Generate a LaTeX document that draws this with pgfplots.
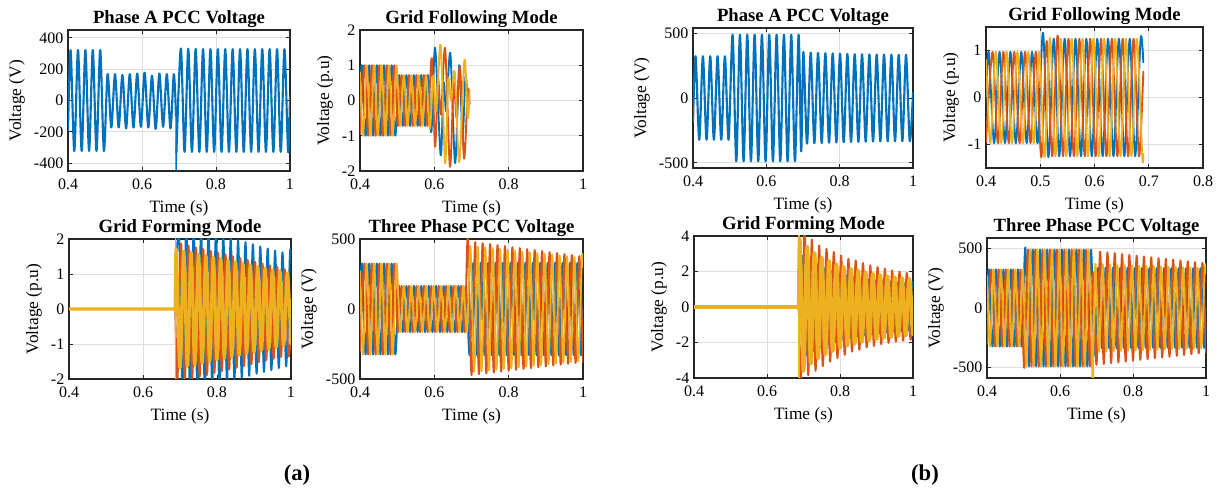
\documentclass[border=0pt]{standalone}
\usepackage{pgfplots}
\pgfplotsset{compat=1.18}
\usepackage{fontspec}
\setmainfont{Liberation Serif}
\definecolor{mblue}{rgb}{0,0.447,0.741}
\definecolor{morange}{rgb}{0.85,0.325,0.098}
\definecolor{myellow}{rgb}{0.929,0.694,0.125}
\pgfplotsset{
 mstyle/.style={
  scale only axis, anchor=south west,
  xmin=0.4, xmax=1,
  xtick={0.4,0.6,0.8,1},
  grid=major, grid style={black!13, line width=0.6pt},
  axis line style={black!85, line width=0.9pt},
  tick style={black!85, line width=0.6pt},
  tick align=inside, major tick length=3pt,
  tick label style={font=\fontsize{12}{12}\selectfont},
  xticklabel style={yshift=-2.5pt},
  label style={font=\fontsize{13}{13}\selectfont},
  xlabel style={yshift=-1pt},
  title style={font=\bfseries\fontsize{14}{14}\selectfont, yshift=-8pt},
  xlabel={Time (s)},
  /pgf/number format/assume math mode=true,
  xticklabel style={/pgf/number format/fixed},
  yticklabel style={/pgf/number format/fixed},
  scaled ticks=false,
  every axis plot/.append style={smooth, line width=1.4pt, mark=none, line join=round, line cap=round},
 }
}
\begin{document}
\begin{tikzpicture}
\useasboundingbox (0,0) rectangle (918.75pt,368.25pt);

% ---------- (a) Phase A PCC Voltage
\begin{axis}[mstyle, at={(51pt,240pt)}, width=166.5pt, height=105.75pt,
  ymin=-450, ymax=450, ytick={-400,-200,0,200,400},
  title={Phase A PCC Voltage}, ylabel={Voltage (V)}]
\addplot[mblue, line width=1.6pt] coordinates {(0.4,-190)(0.407,322)(0.417,-322)(0.427,322)(0.437,-322)(0.447,322)(0.457,-322)(0.467,322)(0.477,-322)(0.487,322)(0.497,-322)(0.507,168)(0.517,-172)(0.527,168)(0.537,-172)(0.547,163)(0.557,-178)(0.567,168)(0.577,-172)(0.587,172)(0.597,-168)(0.607,178)(0.617,-172)(0.627,158)(0.637,-182)(0.647,172)(0.657,-168)(0.667,168)(0.677,-178)(0.686,168)(0.692,-100)};
\addplot[mblue, line width=1.1pt, sharp plot] coordinates {(0.692,-100)(0.692,-470)(0.693,-335)};
\addplot[mblue, line width=1.6pt] coordinates {(0.693,-333)(0.705,332)(0.715,-328)(0.725,330)(0.735,-328)(0.745,329)(0.755,-328)(0.765,328)(0.775,-328)(0.785,328)(0.795,-328)(0.805,328)(0.815,-328)(0.825,328)(0.835,-328)(0.845,328)(0.855,-328)(0.865,328)(0.875,-328)(0.885,328)(0.895,-328)(0.905,328)(0.915,-328)(0.925,328)(0.935,-328)(0.945,328)(0.955,-328)(0.965,328)(0.975,-328)(0.985,328)(0.995,-328)(1,30)};
\end{axis}

% ---------- (a) Grid Following Mode
\begin{axis}[mstyle, at={(270pt,240pt)}, width=167.25pt, height=105.75pt,
  ymin=-2, ymax=2, ytick={-2,-1,0,1,2},
  title={Grid Following Mode}, ylabel={Voltage (p.u)}]
\addplot[mblue] coordinates {(0.4,0)(0.405,1)(0.415,-1)(0.425,1)(0.435,-1)(0.445,1)(0.455,-1)(0.465,1)(0.475,-1)(0.485,1)(0.495,-1)(0.505,0.72)(0.515,-0.72)(0.525,0.72)(0.535,-0.72)(0.545,0.72)(0.555,-0.72)(0.565,0.72)(0.575,-0.72)(0.583,0.72)(0.592,-0.9)(0.602,1.5)(0.617,-1.55)(0.625,0.5)(0.632,-0.3)(0.643,1.34)(0.656,-1.78)(0.667,1.0)(0.676,-1.0)(0.684,0.7)(0.69,-0.2)};
\addplot[morange] coordinates {(0.4,-0.95)(0.412,1)(0.422,-1)(0.432,1)(0.442,-1)(0.452,1)(0.462,-1)(0.472,1)(0.482,-1)(0.492,1)(0.502,-0.72)(0.512,0.72)(0.522,-0.72)(0.532,0.72)(0.542,-0.72)(0.552,0.72)(0.562,-0.72)(0.572,0.72)(0.582,-0.72)(0.593,1.2)(0.602,-1.31)(0.61,0.6)(0.618,-0.4)(0.629,1.48)(0.642,-1.88)(0.652,0.5)(0.66,-0.5)(0.669,0.96)(0.68,-1.65)(0.69,0.3)(0.695,-0.1)};
\addplot[myellow] coordinates {(0.4,0.8)(0.408,-1)(0.418,1)(0.428,-1)(0.438,1)(0.448,-1)(0.458,1)(0.468,-1)(0.478,1)(0.488,-1)(0.498,1)(0.508,-0.72)(0.518,0.72)(0.528,-0.72)(0.538,0.72)(0.548,-0.72)(0.558,0.72)(0.568,-0.72)(0.578,0.72)(0.588,-0.8)(0.597,0.7)(0.605,-0.3)(0.617,1.57)(0.629,-1.78)(0.637,0.6)(0.645,0.0)(0.655,0.8)(0.667,-1.75)(0.681,1.15)(0.69,-0.5)(0.695,0.3)};
\end{axis}

% ---------- (a) Grid Forming Mode
\begin{axis}[mstyle, at={(51.75pt,84pt)}, width=166.5pt, height=105pt,
  ymin=-2, ymax=2, ytick={-2,-1,0,1,2},
  title={Grid Forming Mode}, ylabel={Voltage (p.u)}]
\addplot[mblue] coordinates {(0.4,0)(0.686,0)(0.687,0)(0.697,2.43)(0.707,-2.40)(0.717,2.37)(0.727,-2.35)(0.737,2.31)(0.747,-2.29)(0.757,2.26)(0.767,-2.24)(0.777,2.20)(0.787,-2.18)(0.797,2.14)(0.807,-2.13)(0.817,2.08)(0.827,-2.07)(0.837,2.02)(0.847,-2.02)(0.857,1.97)(0.867,-1.96)(0.877,1.91)(0.887,-1.91)(0.897,1.85)(0.907,-1.85)(0.917,1.79)(0.927,-1.80)(0.937,1.73)(0.947,-1.75)(0.957,1.67)(0.967,-1.69)(0.977,1.62)(0.987,-1.64)(0.997,1.56)(1,1.4)};
\addplot[morange] coordinates {(0.4,0)(0.686,0)(0.687,0)(0.693,-2.09)(0.703,1.87)(0.713,-2.04)(0.723,1.81)(0.733,-1.99)(0.743,1.76)(0.753,-1.94)(0.763,1.71)(0.773,-1.89)(0.783,1.66)(0.793,-1.83)(0.803,1.61)(0.813,-1.78)(0.823,1.56)(0.833,-1.73)(0.843,1.51)(0.853,-1.68)(0.863,1.45)(0.873,-1.63)(0.883,1.40)(0.893,-1.58)(0.903,1.35)(0.913,-1.52)(0.923,1.30)(0.933,-1.47)(0.943,1.25)(0.953,-1.42)(0.963,1.20)(0.973,-1.37)(0.983,1.14)(0.993,-1.32)(1,-0.6)};
\addplot[myellow, line width=2.5pt] coordinates {(0.4,0)(0.686,0)(0.687,0)(0.690,1.7)(0.700,-1.68)(0.710,1.65)(0.720,-1.63)(0.730,1.61)(0.740,-1.59)(0.750,1.56)(0.760,-1.54)(0.770,1.52)(0.780,-1.50)(0.790,1.47)(0.800,-1.45)(0.810,1.43)(0.820,-1.41)(0.830,1.38)(0.840,-1.36)(0.850,1.34)(0.860,-1.32)(0.870,1.29)(0.880,-1.27)(0.890,1.25)(0.900,-1.23)(0.910,1.20)(0.920,-1.18)(0.930,1.16)(0.940,-1.14)(0.950,1.11)(0.960,-1.09)(0.970,1.07)(0.980,-1.05)(0.990,1.02)(1,-1.0)};
\addplot[myellow, line width=1.1pt, sharp plot] coordinates {(0.6875,-2.05)(0.6875,2.05)};
\end{axis}

% ---------- (a) Three Phase PCC Voltage
\begin{axis}[mstyle, at={(270pt,84pt)}, width=167.25pt, height=105pt,
  ymin=-500, ymax=500, ytick={-500,0,500},
  title={Three Phase PCC Voltage}, ylabel={Voltage (V)}]
\addplot[mblue] coordinates {(0.4,0)(0.405,325)(0.415,-325)(0.425,325)(0.435,-325)(0.445,325)(0.455,-325)(0.465,325)(0.475,-325)(0.485,325)(0.495,-325)(0.505,165)(0.515,-165)(0.525,165)(0.535,-165)(0.545,165)(0.555,-165)(0.565,165)(0.575,-165)(0.585,165)(0.595,-165)(0.605,165)(0.615,-165)(0.625,165)(0.635,-165)(0.645,165)(0.655,-165)(0.665,165)(0.675,-165)(0.685,165)(0.695,-330)(0.705,330)(0.715,-330)(0.725,330)(0.735,-330)(0.745,330)(0.755,-330)(0.765,330)(0.775,-330)(0.785,330)(0.795,-330)(0.805,330)(0.815,-330)(0.825,330)(0.835,-330)(0.845,330)(0.855,-330)(0.865,330)(0.875,-330)(0.885,330)(0.895,-330)(0.905,330)(0.915,-330)(0.925,330)(0.935,-330)(0.945,330)(0.955,-330)(0.965,330)(0.975,-330)(0.985,330)(0.995,-330)(1,0)};
\addplot[morange] coordinates {(0.4,-300)(0.412,325)(0.422,-325)(0.432,325)(0.442,-325)(0.452,325)(0.462,-325)(0.472,325)(0.482,-325)(0.492,325)(0.502,-165)(0.512,165)(0.522,-165)(0.532,165)(0.542,-165)(0.552,165)(0.562,-165)(0.572,165)(0.582,-165)(0.592,165)(0.602,-165)(0.612,165)(0.622,-165)(0.632,165)(0.642,-165)(0.652,165)(0.662,-165)(0.672,165)(0.682,-165)(0.690,510)(0.700,-472)(0.710,478)(0.720,-466)(0.730,471)(0.740,-460)(0.750,464)(0.760,-454)(0.770,457)(0.780,-447)(0.790,450)(0.800,-441)(0.810,442)(0.820,-435)(0.830,435)(0.840,-429)(0.850,428)(0.860,-423)(0.870,421)(0.880,-417)(0.890,414)(0.900,-411)(0.910,407)(0.920,-404)(0.930,400)(0.940,-398)(0.950,393)(0.960,-392)(0.970,386)(0.980,-386)(0.990,378)(1,-380)};
\addplot[myellow] coordinates {(0.4,270)(0.408,-325)(0.418,325)(0.428,-325)(0.438,325)(0.448,-325)(0.458,325)(0.468,-325)(0.478,325)(0.488,-325)(0.498,325)(0.508,-165)(0.518,165)(0.528,-165)(0.538,165)(0.548,-165)(0.558,165)(0.568,-165)(0.578,165)(0.588,-165)(0.598,165)(0.608,-165)(0.618,165)(0.628,-165)(0.638,165)(0.648,-165)(0.658,165)(0.668,-165)(0.678,165)(0.688,-165)(0.697,450)(0.707,-450)(0.717,445)(0.727,-445)(0.737,440)(0.747,-439)(0.757,434)(0.767,-434)(0.777,428)(0.787,-428)(0.797,422)(0.807,-423)(0.817,416)(0.827,-417)(0.837,410)(0.847,-412)(0.857,405)(0.867,-406)(0.877,400)(0.887,-401)(0.897,394)(0.907,-395)(0.917,388)(0.927,-390)(0.937,382)(0.947,-384)(0.957,377)(0.967,-379)(0.977,371)(0.987,-373)(0.997,366)(1,300)};
\end{axis}

% ---------- (b) Phase A PCC Voltage
\begin{axis}[mstyle, at={(519.75pt,242.25pt)}, width=165pt, height=105pt,
  ymin=-540, ymax=540, ytick={-500,0,500},
  title={Phase A PCC Voltage}, ylabel={Voltage (V)}]
\addplot[mblue, line width=1.6pt] coordinates {(0.4,-185)(0.407,322)(0.417,-322)(0.427,322)(0.437,-322)(0.447,322)(0.457,-322)(0.467,322)(0.477,-322)(0.487,322)(0.497,-322)(0.508,488)(0.518,-488)(0.528,488)(0.538,-488)(0.548,488)(0.558,-488)(0.568,488)(0.578,-488)(0.588,488)(0.598,-488)(0.608,488)(0.618,-488)(0.628,488)(0.638,-488)(0.648,488)(0.658,-488)(0.668,488)(0.678,-488)(0.688,488)(0.695,-412)(0.701,355)(0.711,-352)(0.721,350)(0.731,-349)(0.741,348)(0.751,-347)(0.761,346)(0.771,-345)(0.781,344)(0.791,-343)(0.801,342)(0.811,-341)(0.821,340)(0.831,-339)(0.841,338)(0.851,-338)(0.861,337)(0.871,-337)(0.881,336)(0.891,-336)(0.901,335)(0.911,-335)(0.921,335)(0.931,-334)(0.941,334)(0.951,-334)(0.961,333)(0.971,-333)(0.981,333)(0.991,-333)(1,40)};
\end{axis}

% ---------- (b) Grid Following Mode
\begin{axis}[mstyle, at={(739.5pt,242.25pt)}, width=162.75pt, height=105.75pt,
  xmax=0.8, xtick={0.4,0.5,0.6,0.7,0.8},
  ymin=-1.5, ymax=1.5, ytick={-1,0,1},
  title={Grid Following Mode}, ylabel={Voltage (p.u)}]
\addplot[mblue] coordinates {(0.4,0)(0.405,0.97)(0.415,-0.97)(0.425,0.97)(0.435,-0.97)(0.445,0.97)(0.455,-0.97)(0.465,0.97)(0.475,-0.97)(0.485,0.97)(0.495,-0.97)(0.505,1.38)(0.515,-1.27)(0.525,1.25)(0.535,-1.25)(0.545,1.25)(0.555,-1.25)(0.565,1.25)(0.575,-1.25)(0.585,1.25)(0.595,-1.25)(0.605,1.25)(0.615,-1.25)(0.625,1.25)(0.635,-1.25)(0.645,1.25)(0.655,-1.25)(0.665,1.25)(0.675,-1.25)(0.685,1.25)(0.69,0.75)};
\addplot[morange] coordinates {(0.4,-0.95)(0.412,0.97)(0.422,-0.97)(0.432,0.97)(0.442,-0.97)(0.452,0.97)(0.462,-0.97)(0.472,0.97)(0.482,-0.97)(0.492,0.97)(0.502,-1.27)(0.512,1.2)(0.522,-1.25)(0.532,1.32)(0.542,-1.25)(0.552,1.25)(0.562,-1.25)(0.572,1.25)(0.582,-1.25)(0.592,1.25)(0.602,-1.25)(0.612,1.25)(0.622,-1.25)(0.632,1.25)(0.642,-1.25)(0.652,1.25)(0.662,-1.25)(0.672,1.25)(0.682,-1.25)(0.69,0.55)};
\addplot[myellow] coordinates {(0.4,0.8)(0.408,-0.97)(0.418,0.97)(0.428,-0.97)(0.438,0.97)(0.448,-0.97)(0.458,0.97)(0.468,-0.97)(0.478,0.97)(0.488,-0.97)(0.498,0.97)(0.508,-1.27)(0.518,1.27)(0.528,-1.25)(0.538,1.25)(0.548,-1.25)(0.558,1.25)(0.568,-1.25)(0.578,1.25)(0.588,-1.25)(0.598,1.25)(0.608,-1.25)(0.618,1.25)(0.628,-1.25)(0.638,1.25)(0.648,-1.25)(0.658,1.25)(0.668,-1.25)(0.678,1.25)(0.688,-1.25)(0.69,-1.2)};
\end{axis}

% ---------- (b) Grid Forming Mode
\begin{axis}[mstyle, at={(520.5pt,84.75pt)}, width=164.25pt, height=106.5pt,
  ymin=-4, ymax=4, ytick={-4,-2,0,2,4},
  title={Grid Forming Mode}, ylabel={Voltage (p.u)}]
\addplot[mblue, line width=1pt] coordinates {(0.4,0)(0.686,0)(0.687,0)(0.697,2.9)(0.707,-2.75)(0.717,2.65)(0.727,-2.5)(0.737,2.4)(0.747,-2.3)(0.757,2.2)(0.767,-2.12)(0.777,2.05)(0.787,-1.98)(0.797,1.92)(0.807,-1.86)(0.817,1.8)(0.827,-1.76)(0.837,1.72)(0.847,-1.68)(0.857,1.64)(0.867,-1.61)(0.877,1.57)(0.887,-1.55)(0.897,1.52)(0.907,-1.5)(0.917,1.47)(0.927,-1.45)(0.937,1.43)(0.947,-1.41)(0.957,1.39)(0.967,-1.37)(0.977,1.35)(0.987,-1.34)(0.997,1.32)(1,1.1)};
\addplot[morange] coordinates {(0.4,0)(0.686,0)(0.687,0)(0.693,-4.3)(0.703,4.3)(0.713,-3.85)(0.723,3.8)(0.733,-3.6)(0.743,3.47)(0.753,-3.33)(0.763,3.28)(0.773,-3.08)(0.783,3.1)(0.793,-2.88)(0.803,2.9)(0.813,-2.7)(0.823,2.72)(0.833,-2.52)(0.843,2.62)(0.853,-2.42)(0.863,2.48)(0.873,-2.28)(0.883,2.35)(0.893,-2.2)(0.903,2.25)(0.913,-2.1)(0.923,2.16)(0.933,-2.02)(0.943,2.06)(0.953,-1.96)(0.963,2.0)(0.973,-1.9)(0.983,1.92)(0.993,-1.85)(1,0.2)};
\addplot[myellow, line width=2.8pt] coordinates {(0.4,0)(0.686,0)(0.687,0)(0.690,3.8)(0.700,-3.6)(0.710,3.4)(0.720,-3.2)(0.730,3.05)(0.740,-2.9)(0.750,2.8)(0.760,-2.68)(0.770,2.6)(0.780,-2.48)(0.790,2.42)(0.800,-2.32)(0.810,2.27)(0.820,-2.18)(0.830,2.15)(0.840,-2.07)(0.850,2.05)(0.860,-1.97)(0.870,1.95)(0.880,-1.89)(0.890,1.87)(0.900,-1.82)(0.910,1.8)(0.920,-1.75)(0.930,1.74)(0.940,-1.7)(0.950,1.68)(0.960,-1.65)(0.970,1.63)(0.980,-1.6)(0.990,1.58)(1,-1.56)};
\addplot[myellow, line width=1.1pt, sharp plot] coordinates {(0.6875,-4.1)(0.6875,4.1)};
\end{axis}

% ---------- (b) Three Phase PCC Voltage
\begin{axis}[mstyle, at={(740.25pt,84.75pt)}, width=164.25pt, height=105pt,
  ymin=-590, ymax=590, ytick={-500,0,500},
  title={Three Phase PCC Voltage}, ylabel={Voltage (V)}]
\addplot[mblue] coordinates {(0.4,0)(0.405,325)(0.415,-325)(0.425,325)(0.435,-325)(0.445,325)(0.455,-325)(0.465,325)(0.475,-325)(0.485,325)(0.495,-325)(0.505,510)(0.515,-492)(0.525,492)(0.535,-492)(0.545,492)(0.555,-492)(0.565,492)(0.575,-492)(0.585,492)(0.595,-492)(0.605,492)(0.615,-492)(0.625,492)(0.635,-492)(0.645,492)(0.655,-492)(0.665,492)(0.675,-492)(0.685,492)(0.695,-400)(0.705,340)(0.715,-340)(0.725,340)(0.735,-340)(0.745,339)(0.755,-339)(0.765,338)(0.775,-338)(0.785,338)(0.795,-338)(0.805,337)(0.815,-337)(0.825,337)(0.835,-337)(0.845,336)(0.855,-336)(0.865,336)(0.875,-336)(0.885,335)(0.895,-335)(0.905,335)(0.915,-335)(0.925,335)(0.935,-335)(0.945,335)(0.955,-335)(0.965,335)(0.975,-335)(0.985,335)(0.995,-335)(1,0)};
\addplot[morange] coordinates {(0.4,-300)(0.412,325)(0.422,-325)(0.432,325)(0.442,-325)(0.452,325)(0.462,-325)(0.472,325)(0.482,-325)(0.492,325)(0.502,-505)(0.512,492)(0.522,-492)(0.532,492)(0.542,-492)(0.552,492)(0.562,-492)(0.572,492)(0.582,-492)(0.592,492)(0.602,-492)(0.612,492)(0.622,-492)(0.632,492)(0.642,-492)(0.652,492)(0.662,-492)(0.672,492)(0.682,-492)(0.691,300)(0.700,-480)(0.710,476)(0.720,-473)(0.730,469)(0.740,-466)(0.750,462)(0.760,-459)(0.770,455)(0.780,-452)(0.790,448)(0.800,-445)(0.810,441)(0.820,-438)(0.830,435)(0.840,-431)(0.850,428)(0.860,-424)(0.870,421)(0.880,-418)(0.890,414)(0.900,-411)(0.910,408)(0.920,-404)(0.930,401)(0.940,-397)(0.950,394)(0.960,-390)(0.970,387)(0.980,-383)(0.990,380)(1,-376)};
\addplot[myellow] coordinates {(0.4,270)(0.408,-325)(0.418,325)(0.428,-325)(0.438,325)(0.448,-325)(0.458,325)(0.468,-325)(0.478,325)(0.488,-325)(0.498,325)(0.508,-492)(0.518,492)(0.528,-492)(0.538,492)(0.548,-492)(0.558,492)(0.568,-492)(0.578,492)(0.588,-492)(0.598,492)(0.608,-492)(0.618,492)(0.628,-492)(0.638,492)(0.648,-492)(0.658,492)(0.668,-492)(0.678,492)(0.688,-492)(0.690,-600)(0.697,372)(0.707,-370)(0.717,367)(0.727,-366)(0.737,364)(0.747,-363)(0.757,362)(0.767,-361)(0.777,360)(0.787,-359)(0.797,358)(0.807,-357)(0.817,356)(0.827,-355)(0.837,354)(0.847,-353)(0.857,352)(0.867,-351)(0.877,350)(0.887,-349)(0.897,348)(0.907,-347)(0.917,346)(0.927,-345)(0.937,344)(0.947,-343)(0.957,342)(0.967,-341)(0.977,340)(0.987,-339)(0.997,338)(1,300)};
\end{axis}

\node[font=\bfseries\fontsize{17}{17}\selectfont] at (222.75pt,12pt) {(a)};
\node[font=\bfseries\fontsize{17}{17}\selectfont] at (693.75pt,12pt) {(b)};
\end{tikzpicture}
\end{document}
